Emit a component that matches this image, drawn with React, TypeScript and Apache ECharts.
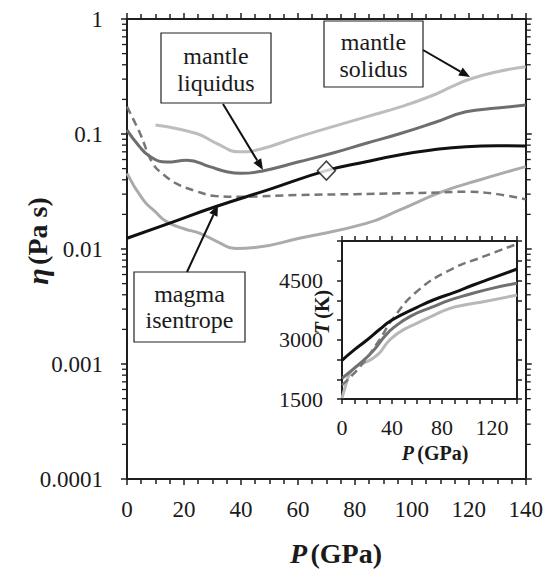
import React, { useEffect, useRef } from 'react';
import * as echarts from 'echarts';

// ---- Main panel data (P in GPa, viscosity in Pa s) ----
const solidusP = [10, 24.4, 31.4, 39.6, 46.7, 60.5, 84, 96, 107, 114, 120, 130, 140];
const solidusEta = [0.12, 0.101, 0.083, 0.07, 0.0736, 0.095, 0.141, 0.172, 0.215, 0.258, 0.298, 0.348, 0.385];

const liquidusP = [0, 4, 8, 14, 21, 29, 35, 40, 48, 60, 72, 84, 96, 108, 119, 130, 140];
const liquidusEta = [0.108, 0.08, 0.064, 0.057, 0.059, 0.052, 0.047, 0.0455, 0.048, 0.057, 0.068, 0.083, 0.101, 0.126, 0.156, 0.168, 0.179];

const isentropeP = [0, 15, 31, 50, 70, 84, 96, 107, 119, 130, 140];
const isentropeEta = [0.0124, 0.0168, 0.0233, 0.033, 0.048, 0.0574, 0.066, 0.0726, 0.0776, 0.079, 0.0787];

const dashedP = [0, 4.6, 9, 13, 17.4, 24, 31, 40, 60, 80, 96, 110, 119, 130, 140];
const dashedEta = [0.173, 0.101, 0.0556, 0.044, 0.037, 0.032, 0.0289, 0.0285, 0.0295, 0.03, 0.0305, 0.031, 0.0315, 0.03, 0.027];

const lowerP = [0, 5.7, 10, 13.9, 20, 25.6, 32, 38, 45, 60.5, 84, 95.6, 110.7, 123.7, 140];
const lowerEta = [0.0455, 0.0267, 0.021, 0.0173, 0.015, 0.0137, 0.0115, 0.0101, 0.0103, 0.0124, 0.0167, 0.0218, 0.0315, 0.0398, 0.052];

const diamondP = [70];
const diamondEta = [0.048];

const yTickLabels = ['0.0001', '0.001', '0.01', '0.1', '1'];
const logMinorTicks = [1e-4, 1e-3, 1e-2, 1e-1].flatMap((d) => [2, 3, 4, 5, 6, 7, 8, 9].map((m) => m * d));

// ---- Inset data (P in GPa, T in K) ----
const insetBlackP = [0, 10, 20, 30, 40, 60, 73, 90, 105, 120, 140];
const insetBlackT = [2480, 2750, 2994, 3260, 3500, 3820, 4006, 4200, 4386, 4560, 4791];

const insetDarkP = [0, 14.4, 22, 27.7, 34, 41, 55, 73, 85, 99.7, 120, 140];
const insetDarkT = [2024, 2403, 2620, 2824, 3080, 3300, 3600, 3837, 3990, 4133, 4300, 4430];

const insetLightP = [0, 3, 6.4, 12, 19.7, 25, 30.4, 35, 40, 48, 59.7, 72, 86.4, 100, 113, 140];
const insetLightT = [1520, 1850, 2150, 2330, 2444, 2540, 2680, 2880, 3050, 3230, 3416, 3600, 3796, 3890, 3963, 4133];

const insetDashP = [0, 14.4, 29, 41, 59.7, 86.4, 113, 140];
const insetDashT = [1854, 2318, 2951, 3543, 4216, 4766, 5103, 5424];

const zip = (a: number[], b: number[]) => a.map((v, i) => [v, b[i]]);

const FONT = 'Liberation Serif, Times New Roman, serif';
const AX = '#1e1e1e';

function arrow(x1: number, y1: number, x2: number, y2: number) {
  const ang = Math.atan2(y2 - y1, x2 - x1);
  const L = 11;
  const W = 4.5;
  const c = Math.cos(ang);
  const s = Math.sin(ang);
  const bx = x2 - L * c;
  const by = y2 - L * s;
  return [
    { type: 'line', z: 20, shape: { x1, y1, x2: bx, y2: by }, style: { stroke: '#111', lineWidth: 2 } },
    {
      type: 'polygon',
      z: 20,
      shape: { points: [[x2, y2], [bx - W * s, by + W * c], [bx + W * s, by - W * c]] },
      style: { fill: '#111' },
    },
  ];
}

function box(x: number, y: number, w: number, h: number, lines: string[], lineY: number[]) {
  const els: any[] = [
    { type: 'rect', z: 20, shape: { x, y, width: w, height: h }, style: { fill: '#fff', stroke: '#222', lineWidth: 1.2 } },
  ];
  lines.forEach((t, i) => {
    els.push({
      type: 'text',
      z: 21,
      x: x + w / 2,
      y: lineY[i],
      style: { text: t, fontFamily: FONT, fontSize: 24, fill: '#1a1a1a', align: 'center', verticalAlign: 'middle' },
    });
  });
  return els;
}

function axisCommon(extra: any) {
  return {
    type: 'value',
    axisLine: { onZero: false, lineStyle: { color: AX, width: 2 } },
    axisTick: { length: 6, lineStyle: { color: AX, width: 1.5 } },
    splitLine: { show: false },
    minorSplitLine: { show: false },
    ...extra,
  };
}

function titleText(x: number, y: number, sym: string, rest: string, size: number, symSize: number, rotate: boolean) {
  return {
    type: 'text', z: 21, x, y, rotation: rotate ? Math.PI / 2 : 0,
    style: {
      text: `{i|${sym}} {b|${rest}}`, align: 'center', verticalAlign: 'middle',
      rich: {
        i: { fontFamily: FONT, fontSize: symSize, fontWeight: 'bold', fontStyle: 'italic', fill: '#1a1a1a' },
        b: { fontFamily: FONT, fontSize: size, fontWeight: 'bold', fill: '#1a1a1a' },
      },
    },
  };
}

export default function App() {
  const ref = useRef<HTMLDivElement>(null);
  useEffect(() => {
    if (!ref.current) return;
    const chart = echarts.init(ref.current, null, { renderer: 'svg' });
    const mainLabel = { fontFamily: FONT, fontSize: 23, color: '#1a1a1a' };
    const insetLabel = { fontFamily: FONT, fontSize: 22, color: '#1a1a1a' };

    const option: any = {
      animation: false,
      backgroundColor: '#fff',
      textStyle: { fontFamily: FONT },
      grid: [
        { left: 127, top: 19, width: 400, height: 460, containLabel: false },
        { left: 342, top: 241, width: 175, height: 158, containLabel: false },
      ],
      xAxis: [
        axisCommon({
          gridIndex: 0, min: 0, max: 140, interval: 20, position: 'bottom',
          minorTick: { show: true, splitNumber: 4, length: 5, lineStyle: { color: AX, width: 1.5 } },
          axisLabel: { ...mainLabel, margin: 19 },
        }),
        axisCommon({
          gridIndex: 0, min: 0, max: 140, interval: 20, position: 'top',
          minorTick: { show: true, splitNumber: 4, length: 5, lineStyle: { color: AX, width: 1.5 } },
          axisLabel: { show: false },
        }),
        axisCommon({
          gridIndex: 1, min: 0, max: 140, interval: 10, position: 'bottom',
          axisTick: { length: 5, lineStyle: { color: AX, width: 1.5 } },
          axisLabel: { ...insetLabel, margin: 17, formatter: (v: number) => (v % 40 === 0 ? String(v) : '') },
        }),
        axisCommon({
          gridIndex: 1, min: 0, max: 140, interval: 10, position: 'top',
          axisTick: { length: 5, lineStyle: { color: AX, width: 1.5 } },
          axisLabel: { show: false },
        }),
      ],
      yAxis: [
        axisCommon({
          type: 'log', logBase: 10, gridIndex: 0, min: 0.0001, max: 1, position: 'left',
          axisLabel: {
            ...mainLabel, margin: 24,
            formatter: (v: number) => yTickLabels[Math.round(Math.log10(v)) + 4] ?? '',
          },
        }),
        axisCommon({
          type: 'log', logBase: 10, gridIndex: 0, min: 0.0001, max: 1, position: 'right',
          axisLabel: { show: false },
        }),
        axisCommon({
          gridIndex: 1, min: 1500, max: 5500, interval: 500, position: 'left',
          axisTick: { length: 5, lineStyle: { color: AX, width: 1.5 } },
          axisLabel: { ...insetLabel, margin: 19, formatter: (v: number) => (v % 1500 === 0 ? String(v) : '') },
        }),
        axisCommon({
          gridIndex: 1, min: 1500, max: 5500, interval: 500, position: 'right',
          axisTick: { length: 5, lineStyle: { color: AX, width: 1.5 } },
          axisLabel: { show: false },
        }),
      ],
      series: [
        {
          type: 'custom', xAxisIndex: 0, yAxisIndex: 0, silent: true, z: 5,
          data: logMinorTicks.map((v) => [0, v]),
          renderItem: (_p: any, api: any) => {
            const v = api.value(1);
            const l = api.coord([0, v]);
            const r = api.coord([140, v]);
            return {
              type: 'group',
              children: [
                { type: 'line', shape: { x1: l[0] - 5, y1: l[1], x2: l[0], y2: l[1] }, style: { stroke: AX, lineWidth: 1.3 } },
                { type: 'line', shape: { x1: r[0], y1: r[1], x2: r[0] + 5, y2: r[1] }, style: { stroke: AX, lineWidth: 1.3 } },
              ],
            };
          },
        },
        { type: 'line', xAxisIndex: 0, yAxisIndex: 0, data: zip(solidusP, solidusEta), smooth: 0.5, showSymbol: false, lineStyle: { color: '#bdbdbd', width: 3 } },
        { type: 'line', xAxisIndex: 0, yAxisIndex: 0, data: zip(lowerP, lowerEta), smooth: 0.5, showSymbol: false, lineStyle: { color: '#ababab', width: 3 } },
        { type: 'line', xAxisIndex: 0, yAxisIndex: 0, data: zip(dashedP, dashedEta), smooth: 0.4, showSymbol: false, lineStyle: { color: '#767676', width: 2.5, type: [8, 5] } },
        { type: 'line', xAxisIndex: 0, yAxisIndex: 0, data: zip(liquidusP, liquidusEta), smooth: 0.5, showSymbol: false, lineStyle: { color: '#6e6e6e', width: 3 } },
        { type: 'line', xAxisIndex: 0, yAxisIndex: 0, data: zip(isentropeP, isentropeEta), smooth: 0.5, showSymbol: false, lineStyle: { color: '#111', width: 3 } },
        {
          type: 'scatter', xAxisIndex: 0, yAxisIndex: 0, data: zip(diamondP, diamondEta), symbol: 'diamond', symbolSize: [18, 19], z: 10,
          itemStyle: { color: '#fff', borderColor: '#111', borderWidth: 1.5 },
        },
        { type: 'line', xAxisIndex: 2, yAxisIndex: 2, data: zip(insetLightP, insetLightT), smooth: 0.5, showSymbol: false, lineStyle: { color: '#b8b8b8', width: 3 } },
        { type: 'line', xAxisIndex: 2, yAxisIndex: 2, data: zip(insetDarkP, insetDarkT), smooth: 0.5, showSymbol: false, lineStyle: { color: '#707070', width: 3 } },
        { type: 'line', xAxisIndex: 2, yAxisIndex: 2, data: zip(insetDashP, insetDashT), smooth: 0.5, showSymbol: false, lineStyle: { color: '#767676', width: 2.5, type: [8, 5] } },
        { type: 'line', xAxisIndex: 2, yAxisIndex: 2, data: zip(insetBlackP, insetBlackT), smooth: 0.5, showSymbol: false, lineStyle: { color: '#111', width: 3 } },
      ],
      graphic: [
        ...box(161, 33, 110, 70, ['mantle', 'liquidus'], [56, 83]),
        ...box(324, 21, 99, 66, ['mantle', 'solidus'], [42, 69]),
        ...box(134, 272, 111, 70, ['magma', 'isentrope'], [294, 320]),
        ...arrow(223, 104, 263, 170),
        ...arrow(423, 50, 470, 77),
        ...arrow(187, 272, 218, 205),
        titleText(336, 553, 'P', '(GPa)', 28, 28, false),
        titleText(37, 241, 'η', '(Pa s)', 28, 30, true),
        titleText(435, 453, 'P', '(GPa)', 20, 20, false),
        titleText(322, 312, 'T', '(K)', 20, 20, true),
      ],
    };
    chart.setOption(option);
    return () => chart.dispose();
  }, []);
  return (
    <div
      ref={ref}
      style={{ position: 'absolute', left: 0, top: 0, width: 546, height: 569, background: '#fff' }}
    />
  );
}
